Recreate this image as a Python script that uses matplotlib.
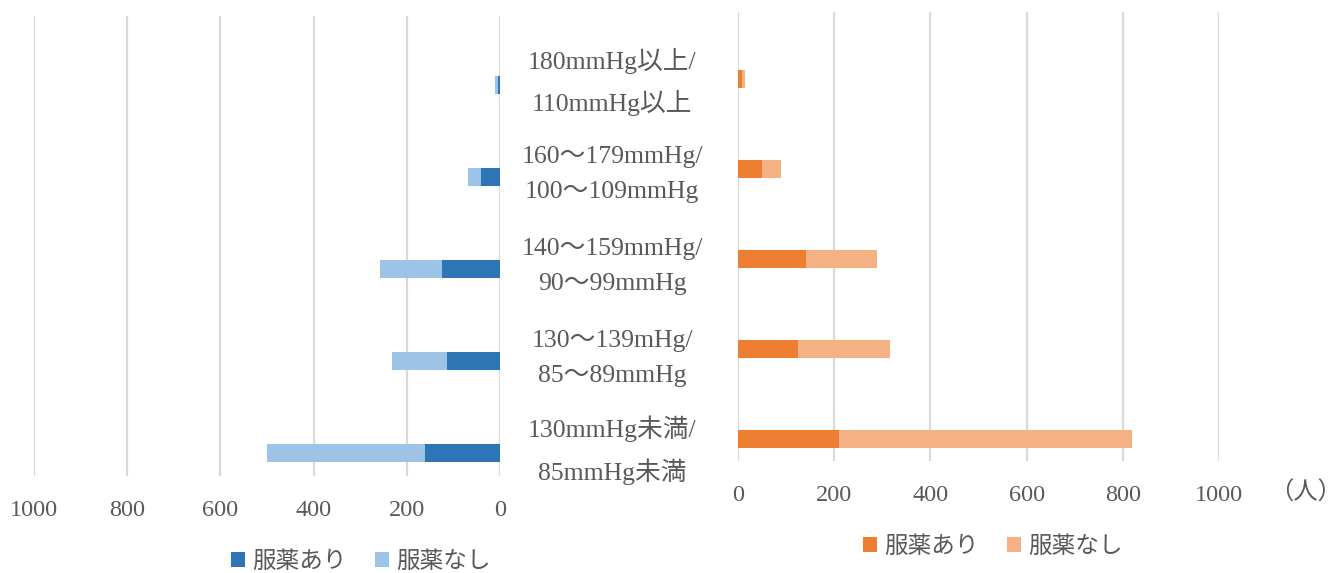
import matplotlib
matplotlib.use("Agg")
import matplotlib.pyplot as plt
from matplotlib.patches import Patch
from matplotlib.transforms import blended_transform_factory

# Blood pressure categories (top to bottom)
categories = [
    "180mmHg以上/\n110mmHg以上",
    "160～179mmHg/\n100～109mmHg",
    "140～159mmHg/\n90～99mmHg",
    "130～139mHg/\n85～89mmHg",
    "130mmHg未満/\n85mmHg未満",
]

# Left panel (blue): counts of people
left_medicated = [5, 41, 124, 114, 162]
left_unmedicated = [5, 28, 133, 118, 339]

# Right panel (orange): counts of people
right_medicated = [9, 50, 141, 125, 209]
right_unmedicated = [6, 39, 148, 190, 611]

tick_values = [0, 200, 400, 600, 800, 1000]
series_labels = ["服薬あり", "服薬なし"]
unit_label = "（人）"

FONT = ["Liberation Serif", "Noto Sans CJK JP"]
TEXT_COLOR = "#595959"
GRID_COLOR = "#D9D9D9"
FS = 17.5
FS_CAT = 18.5

blue_dark, blue_light = "#2E75B6", "#9DC3E6"
orange_dark, orange_light = "#ED7D31", "#F4B183"

W, H = 1344, 573
fig = plt.figure(figsize=(W / 100, H / 100), dpi=100)


def px_axes(x0, x1, y0, y1):
    return fig.add_axes([x0 / W, 1 - y1 / H, (x1 - x0) / W, (y1 - y0) / H])


ax_l = px_axes(34, 500, 16, 476)
ax_r = px_axes(738, 1219, 12, 461)

n = len(categories)
ypos = [n - 1 - i for i in range(n)]
bar_h = 0.2


def style(ax, inverted):
    for s in ax.spines.values():
        s.set_visible(False)
    ax.set_xlim((1000, 0) if inverted else (0, 1000))
    ax.set_ylim(-0.25, n - 0.25)
    ax.set_xticks(tick_values)
    ax.set_xticklabels([str(v) for v in tick_values], fontsize=FS,
                       family=FONT, color=TEXT_COLOR)
    ax.set_yticks([])
    ax.tick_params(axis="x", length=0, pad=17)
    ax.grid(axis="x", color=GRID_COLOR, linewidth=1.6)
    ax.set_axisbelow(True)


# Left panel
ax_l.barh(ypos, left_medicated, height=bar_h, color=blue_dark)
ax_l.barh(ypos, left_unmedicated, left=left_medicated, height=bar_h,
          color=blue_light)
style(ax_l, inverted=True)

# Right panel
ax_r.barh(ypos, right_medicated, height=bar_h, color=orange_dark)
ax_r.barh(ypos, right_unmedicated, left=right_medicated, height=bar_h,
          color=orange_light)
style(ax_r, inverted=False)

# Category labels between the panels
trans = blended_transform_factory(fig.transFigure, ax_l.transData)
for y, label in zip(ypos, categories):
    fig.text(612 / W, y + 0.03, label, transform=trans, ha="center",
             va="center", multialignment="center", fontsize=FS_CAT,
             family=FONT, color=TEXT_COLOR, linespacing=1.75)

# Unit label
fig.text(1305 / W, 1 - 493 / H, unit_label, ha="center", va="center",
         fontsize=FS, family=FONT, color=TEXT_COLOR)

# Legends
def add_legend(colors, cx, cy):
    handles = [Patch(facecolor=c, edgecolor="none") for c in colors]
    fig.legend(handles, series_labels, loc="center",
               bbox_to_anchor=(cx / W, 1 - cy / H), ncol=2, frameon=False,
               handlelength=0.6, handleheight=0.6, handletextpad=0.3,
               columnspacing=1.2,
               prop={"family": FONT, "size": 17}, labelcolor=TEXT_COLOR)


add_legend([blue_dark, blue_light], 361, 562)
add_legend([orange_dark, orange_light], 993, 547)

fig.savefig("out.png", dpi=100)
